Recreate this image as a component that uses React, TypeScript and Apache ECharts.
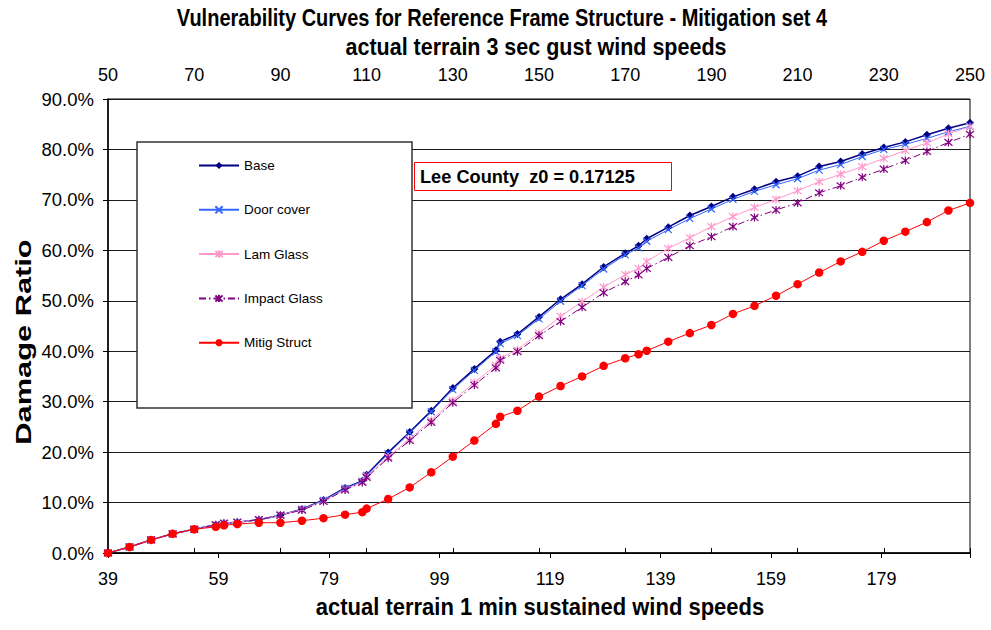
import React, { useEffect, useRef } from 'react';
import * as echarts from 'echarts';

// 3-second gust wind speeds (top axis) at which the curves are sampled
const gustSpeeds = [50, 55, 60, 65, 70, 75, 76.9, 80, 85, 90, 95, 100, 105, 109, 110, 115, 120, 125, 130, 135, 140, 141, 145, 150, 155, 160, 165, 170, 173.1, 175, 180, 185, 190, 195, 200, 205, 210, 215, 220, 225, 230, 235, 240, 245, 250];

// Damage ratio (%) per series
const base = [0, 1.2, 2.6, 3.8, 4.7, 5.6, 5.9, 6.1, 6.6, 7.5, 8.7, 10.5, 12.9, 14.3, 15.5, 19.9, 24.0, 28.2, 32.7, 36.5, 40.2, 41.9, 43.4, 46.8, 50.3, 53.3, 56.7, 59.4, 60.9, 62.3, 64.6, 66.9, 68.7, 70.6, 72.1, 73.6, 74.7, 76.6, 77.6, 79.1, 80.4, 81.5, 82.9, 84.2, 85.3];
const doorCover = [0, 1.2, 2.6, 3.8, 4.7, 5.6, 5.9, 6.1, 6.6, 7.5, 8.7, 10.4, 12.8, 14.2, 15.4, 19.7, 23.8, 28.0, 32.4, 36.2, 39.9, 41.5, 43.1, 46.4, 49.9, 53.0, 56.3, 59.1, 60.5, 61.8, 64.1, 66.3, 68.2, 70.1, 71.7, 73.0, 74.2, 75.9, 77.0, 78.6, 80.0, 81.0, 82.2, 83.5, 84.6];
const lamGlass = [0, 1.2, 2.6, 3.8, 4.7, 5.6, 5.9, 6.1, 6.6, 7.5, 8.6, 10.3, 12.6, 14.1, 15.2, 19.1, 22.6, 26.3, 30.2, 33.8, 37.2, 38.6, 40.3, 43.6, 46.9, 49.8, 52.7, 55.2, 56.4, 57.8, 60.4, 62.5, 64.7, 66.7, 68.5, 70.1, 71.8, 73.6, 75.1, 76.6, 78.2, 79.8, 81.3, 83.1, 84.5];
const impactGlass = [0, 1.2, 2.6, 3.8, 4.7, 5.6, 5.9, 6.1, 6.6, 7.5, 8.5, 10.2, 12.5, 14.0, 15.0, 18.8, 22.3, 25.9, 29.8, 33.3, 36.7, 38.2, 39.9, 43.1, 45.9, 48.7, 51.6, 53.8, 55.1, 56.4, 58.6, 60.9, 62.7, 64.7, 66.5, 68.0, 69.4, 71.4, 72.8, 74.5, 76.1, 77.8, 79.6, 81.4, 83.0];
const mitigStruct = [0, 1.2, 2.6, 3.8, 4.7, 5.2, 5.5, 5.75, 6.0, 6.0, 6.4, 6.9, 7.6, 8.1, 8.8, 10.7, 13.0, 16.0, 19.1, 22.3, 25.6, 27.0, 28.2, 31.0, 33.1, 35.0, 37.1, 38.6, 39.4, 40.1, 41.9, 43.6, 45.2, 47.4, 49.0, 51.0, 53.3, 55.6, 57.8, 59.7, 61.9, 63.7, 65.6, 67.9, 69.4];

const seriesNames = ['Base', 'Door cover', 'Lam Glass', 'Impact Glass', 'Mitig Struct'];

// Axis ranges
const gustMin = 50;
const gustMax = 250;
const sustainedMin = 39;
const gustStep = 20;
const yMin = 0;
const yMax = 90;
const yStep = 10;

const titleText = 'Vulnerability Curves for Reference Frame Structure - Mitigation set 4';
const topAxisName = 'actual terrain 3 sec gust wind speeds';
const bottomAxisName = 'actual terrain 1 min sustained wind speeds';
const yAxisName = 'Damage Ratio';
const noteText = 'Lee County  z0 = 0.17125';

const FONT = 'Arial, "Liberation Sans", sans-serif';

const X_SYMBOL = 'path://M0,0L10,10M10,0L0,10';
const STAR_SYMBOL = 'path://M0,0L10,10M10,0L0,10M5,-1L5,11';

export default function App() {
  const ref = useRef<HTMLDivElement>(null);

  useEffect(() => {
    if (!ref.current) return;
    const chart = echarts.init(ref.current, undefined, { renderer: 'svg' });
    const gustFactor = gustMin / sustainedMin;
    const sustainedSpan = (gustMax - gustMin) / gustFactor;

    const toData = (vals: number[]) => gustSpeeds.map((g, i) => [g - gustMin, vals[i]]);

    const mk = (name: string, vals: number[], color: string, symbol: string, size: number, extra: any = {}) => ({
      name,
      type: 'line',
      xAxisIndex: 0,
      data: toData(vals),
      symbol,
      symbolSize: size,
      color,
      lineStyle: { color, width: 1, ...(extra.lineStyle || {}) },
      itemStyle: { color, borderColor: color, borderWidth: extra.borderWidth ?? 0 },
      emphasis: { disabled: true },
    });

    const boldText = (text: string, x: number, y: number, size: number, extra: any = {}) => ({
      type: 'text',
      x,
      y,
      ...extra,
      style: { text, fontSize: size, fontWeight: 'bold', fontFamily: FONT, fill: '#000', textAlign: 'center', textVerticalAlign: 'middle' },
    });

    chart.setOption({
      animation: false,
      backgroundColor: '#fff',
      grid: { left: 108, right: 21, top: 99, bottom: 77, show: true, borderColor: '#000', borderWidth: 1 },
      xAxis: [
        {
          type: 'value',
          position: 'top',
          min: 0,
          max: gustMax - gustMin,
          interval: gustStep,
          axisLine: { show: true, lineStyle: { color: '#000', width: 1 } },
          axisTick: { show: true, length: 5, lineStyle: { color: '#000' } },
          axisLabel: { formatter: (v: number) => String(v + gustMin), fontSize: 18, color: '#000', fontFamily: FONT, margin: 15 },
          splitLine: { show: false },
        },
        {
          type: 'value',
          position: 'bottom',
          min: 0,
          max: sustainedSpan,
          interval: gustStep,
          axisLine: { show: true, lineStyle: { color: '#000', width: 1.5 } },
          axisTick: { show: true, length: 5, lineStyle: { color: '#000' } },
          axisLabel: {
            formatter: (v: number) => (Math.abs(v % gustStep) < 1e-6 ? String(Math.round(v + sustainedMin)) : ''),
            fontSize: 18, color: '#000', fontFamily: FONT, margin: 17,
          },
          splitLine: { show: false },
        },
      ],
      yAxis: {
        type: 'value',
        min: yMin,
        max: yMax,
        interval: yStep,
        axisLine: { show: true, lineStyle: { color: '#000', width: 1.5 } },
        axisTick: { show: true, length: 5, lineStyle: { color: '#000' } },
        axisLabel: { formatter: (v: number) => v.toFixed(1) + '%', fontSize: 18.5, color: '#000', fontFamily: FONT, margin: 14 },
        splitLine: { show: true, lineStyle: { color: '#1a1a1a', width: 1 } },
      },
      legend: {
        orient: 'vertical',
        left: 198,
        top: 158.5,
        padding: 0,
        itemWidth: 40,
        itemHeight: 9,
        itemGap: 30.3,
        z: 10,
        textStyle: { fontSize: 13.5, color: '#000', fontFamily: FONT },
        data: seriesNames,
        selectedMode: false,
      },
      graphic: [
        { type: 'rect', z: 5, shape: { x: 137, y: 142, width: 275, height: 266 }, style: { fill: '#fff', stroke: '#333', lineWidth: 1.5 } },
        { type: 'rect', z: 5, shape: { x: 414.5, y: 162.5, width: 257, height: 28 }, style: { fill: '#fff', stroke: '#ff0000', lineWidth: 1 } },
        { type: 'text', z: 6, x: 420, y: 177, style: { text: noteText, fontSize: 18.2, fontWeight: 'bold', fontFamily: FONT, fill: '#000', textVerticalAlign: 'middle' } },
        boldText(titleText, 502, 18, 20, { scaleY: 1.15 }),
        boldText(topAxisName, 536, 47, 21.5, { scaleY: 1.12 }),
        boldText(bottomAxisName, 540, 607, 22, { scaleY: 1.1 }),
        boldText(yAxisName, 24, 342, 22, { rotation: Math.PI / 2, scaleX: 1.4 }),
      ],
      series: [
        mk(seriesNames[0], base, '#000080', 'diamond', 8, { lineStyle: { width: 1.5 } }),
        mk(seriesNames[1], doorCover, '#3366ff', X_SYMBOL, 7, { borderWidth: 1.2 }),
        mk(seriesNames[2], lamGlass, '#ff99cc', STAR_SYMBOL, 8, { borderWidth: 1.2 }),
        mk(seriesNames[3], impactGlass, '#800080', STAR_SYMBOL, 8, { borderWidth: 1.2, lineStyle: { type: [7, 3, 1.5, 3] } }),
        mk(seriesNames[4], mitigStruct, '#ff0000', 'circle', 8.5),
      ],
    });
    return () => chart.dispose();
  }, []);

  return <div ref={ref} style={{ position: 'fixed', left: 0, top: 0, width: 991, height: 630 }} />;
}
